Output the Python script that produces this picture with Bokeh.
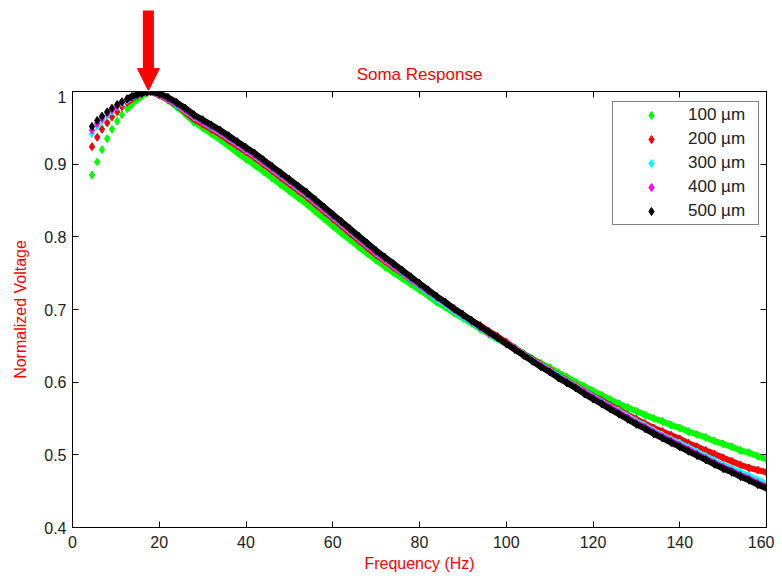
from bokeh.plotting import figure
from bokeh.layouts import column
from bokeh.models import (Arrow, NormalHead, LinearAxis, Legend, LegendItem, Label,
                          FixedTicker, Range1d, CustomJSTickFormatter,
                          CustomLabelingPolicy)
from bokeh.embed import file_html
from bokeh.resources import INLINE

# ---------------- data ----------------
freq = [4.5, 5.7, 6.8, 8.0, 9.1, 10.3, 11.4, 12.6, 13.7, 14.9, 16.0, 17.2,
        18, 20, 22, 24, 26, 28, 30, 32, 34, 36, 38, 40, 42, 44, 46, 48, 50,
        52, 54, 56, 58, 60, 62, 64, 66, 68, 70, 72, 74, 76, 78, 80, 82, 84,
        86, 88, 90, 92, 94, 96, 98, 100, 102, 104, 106, 108, 110, 112, 114,
        116, 118, 120, 122, 124, 126, 128, 130, 132, 134, 136, 138, 140, 142,
        144, 146, 148, 150, 152, 154, 156, 158, 160]

v100 = [0.885, 0.903, 0.920, 0.935, 0.948, 0.959, 0.968, 0.976, 0.983, 0.989, 0.994, 0.998,
        1.000, 0.995, 0.988, 0.979, 0.969, 0.958, 0.950, 0.942, 0.934, 0.925, 0.916, 0.907,
        0.899, 0.890, 0.881, 0.872, 0.863, 0.854, 0.845, 0.835, 0.825, 0.815, 0.805, 0.796,
        0.786, 0.777, 0.768, 0.759, 0.751, 0.743, 0.735, 0.727, 0.719, 0.710, 0.703, 0.695,
        0.688, 0.681, 0.673, 0.666, 0.659, 0.653, 0.646, 0.639, 0.632, 0.626, 0.620, 0.613,
        0.607, 0.600, 0.594, 0.588, 0.582, 0.576, 0.570, 0.565, 0.560, 0.555, 0.550, 0.546,
        0.541, 0.537, 0.532, 0.528, 0.524, 0.519, 0.515, 0.511, 0.506, 0.503, 0.498, 0.494]

v200 = [0.924, 0.937, 0.948, 0.957, 0.965, 0.972, 0.979, 0.985, 0.990, 0.994, 0.997, 0.999,
        1.000, 0.995, 0.989, 0.981, 0.972, 0.962, 0.955, 0.948, 0.941, 0.933, 0.925, 0.917,
        0.909, 0.900, 0.891, 0.882, 0.873, 0.864, 0.855, 0.845, 0.835, 0.825, 0.815, 0.805,
        0.795, 0.785, 0.775, 0.767, 0.758, 0.750, 0.741, 0.733, 0.725, 0.716, 0.709, 0.701,
        0.693, 0.685, 0.678, 0.670, 0.663, 0.655, 0.647, 0.639, 0.632, 0.624, 0.617, 0.609,
        0.602, 0.595, 0.588, 0.581, 0.575, 0.568, 0.562, 0.555, 0.549, 0.543, 0.537, 0.532,
        0.527, 0.522, 0.516, 0.511, 0.506, 0.501, 0.496, 0.491, 0.486, 0.482, 0.479, 0.476]

v300 = [0.942, 0.952, 0.960, 0.967, 0.973, 0.979, 0.984, 0.988, 0.992, 0.995, 0.998, 0.9995,
        1.000, 0.996, 0.990, 0.982, 0.974, 0.965, 0.958, 0.951, 0.944, 0.936, 0.928, 0.920,
        0.912, 0.903, 0.894, 0.885, 0.876, 0.867, 0.858, 0.848, 0.838, 0.828, 0.818, 0.808,
        0.798, 0.788, 0.778, 0.769, 0.760, 0.751, 0.742, 0.733, 0.724, 0.715, 0.707, 0.698,
        0.690, 0.683, 0.675, 0.668, 0.660, 0.653, 0.646, 0.638, 0.630, 0.623, 0.616, 0.608,
        0.601, 0.594, 0.587, 0.580, 0.573, 0.566, 0.560, 0.553, 0.546, 0.540, 0.533, 0.527,
        0.521, 0.516, 0.510, 0.504, 0.498, 0.492, 0.486, 0.481, 0.476, 0.471, 0.465, 0.460]

v400 = [0.947, 0.956, 0.963, 0.970, 0.975, 0.980, 0.985, 0.989, 0.993, 0.996, 0.998, 1.000,
        1.000, 0.996, 0.990, 0.983, 0.975, 0.966, 0.959, 0.952, 0.945, 0.937, 0.929, 0.921,
        0.913, 0.904, 0.895, 0.886, 0.877, 0.868, 0.859, 0.849, 0.839, 0.829, 0.819, 0.809,
        0.799, 0.789, 0.779, 0.770, 0.761, 0.752, 0.743, 0.734, 0.725, 0.717, 0.709, 0.700,
        0.692, 0.684, 0.676, 0.668, 0.661, 0.653, 0.645, 0.637, 0.629, 0.622, 0.615, 0.607,
        0.600, 0.593, 0.586, 0.579, 0.572, 0.565, 0.558, 0.551, 0.544, 0.538, 0.531, 0.525,
        0.519, 0.513, 0.507, 0.501, 0.495, 0.489, 0.483, 0.478, 0.472, 0.467, 0.461, 0.456]

v500 = [0.952, 0.960, 0.966, 0.972, 0.977, 0.982, 0.986, 0.990, 0.993, 0.996, 0.998, 0.9995,
        1.000, 0.997, 0.992, 0.985, 0.977, 0.968, 0.961, 0.954, 0.947, 0.939, 0.931, 0.923,
        0.915, 0.906, 0.897, 0.888, 0.879, 0.870, 0.861, 0.851, 0.841, 0.831, 0.821, 0.811,
        0.801, 0.791, 0.781, 0.772, 0.763, 0.754, 0.745, 0.736, 0.727, 0.718, 0.710, 0.701,
        0.693, 0.685, 0.677, 0.669, 0.661, 0.653, 0.645, 0.637, 0.629, 0.621, 0.614, 0.606,
        0.599, 0.592, 0.584, 0.577, 0.570, 0.563, 0.556, 0.549, 0.542, 0.536, 0.529, 0.523,
        0.517, 0.511, 0.505, 0.499, 0.493, 0.487, 0.481, 0.476, 0.470, 0.465, 0.459, 0.454]

series_labels = ["100 \u00b5m", "200 \u00b5m", "300 \u00b5m", "400 \u00b5m", "500 \u00b5m"]
series_values = [v100, v200, v300, v400, v500]
series_colors = ["#00FF00", "#FF0000", "#00FFFF", "#FF00FF", "#000000"]

x_ticks = [0, 20, 40, 60, 80, 100, 120, 140, 160]
y_ticks = [0.4, 0.5, 0.6, 0.7, 0.8, 0.9, 1.0]
peak_freq = 17.5
peak_value = 1.0
title_text = "Soma Response"

FONT = "Liberation Sans"
RED = "#FF0000"

# shared scale: 436 px of frame for 0.6 of voltage
Y_PER_PX = 0.6 / 436.0
TOP_H = 90

x_range = Range1d(0, 160)

# ---------------- top strip (title + arrow) ----------------
top = figure(width=774, height=TOP_H, output_backend="svg", toolbar_location=None,
             x_range=x_range,
             y_range=Range1d(peak_value, peak_value + TOP_H * Y_PER_PX),
             x_axis_location=None, y_axis_location=None, title=None,
             min_border_left=72, min_border_right=8, min_border_top=0,
             min_border_bottom=0)
top.xgrid.visible = False
top.ygrid.visible = False
top.outline_line_color = None
top.background_fill_color = "white"
top.border_fill_color = "white"

shaft = Arrow(end=None, x_start=peak_freq, y_start=peak_value + 80 * Y_PER_PX,
              x_end=peak_freq, y_end=peak_value + 22 * Y_PER_PX,
              line_color=RED, line_width=11)
head = Arrow(end=NormalHead(size=22, fill_color=RED, line_color=RED),
             x_start=peak_freq, y_start=peak_value + 22 * Y_PER_PX,
             x_end=peak_freq, y_end=peak_value, line_alpha=0)
top.add_layout(shaft)
top.add_layout(head)

title_lbl = Label(x=80, y=peak_value + 16 * Y_PER_PX, text=title_text,
                  text_align="center", text_baseline="middle",
                  text_color=RED, text_font=FONT, text_font_size="17px")
top.add_layout(title_lbl)

# ---------------- main plot ----------------
p = figure(width=774, height=484, output_backend="svg", toolbar_location=None,
           x_range=x_range, y_range=Range1d(0.4, 1.0), title=None,
           min_border_left=72, min_border_right=8, min_border_top=1,
           min_border_bottom=47)
p.xgrid.visible = False
p.ygrid.visible = False
p.outline_line_color = "black"
p.background_fill_color = "white"
p.border_fill_color = "white"


def style_axis(ax, show_labels=True):
    ax.axis_line_color = "black"
    ax.major_tick_line_color = "black"
    ax.major_tick_in = 6
    ax.major_tick_out = 0
    ax.minor_tick_line_color = None
    ax.major_label_text_font = FONT
    ax.major_label_text_color = "#222222"
    ax.axis_label_text_font = FONT
    ax.axis_label_text_color = RED
    ax.axis_label_text_font_style = "normal"
    if show_labels:
        ax.major_label_text_font_size = "16px"
    else:
        ax.major_label_text_font_size = "0px"
        ax.major_label_standoff = 0
        ax.major_label_policy = CustomLabelingPolicy(code="return new Set()")


xa = p.xaxis[0]
ya = p.yaxis[0]
xa.ticker = FixedTicker(ticks=x_ticks)
ya.ticker = FixedTicker(ticks=y_ticks)
ya.formatter = CustomJSTickFormatter(
    code="return Math.abs(tick - 1) < 1e-9 ? '1' : tick.toFixed(1);")
style_axis(xa)
style_axis(ya)
xa.axis_label = "Frequency (Hz)"
ya.axis_label = "Normalized Voltage"
xa.axis_label_text_font_size = "16px"
ya.axis_label_text_font_size = "16px"
xa.major_label_standoff = 8
xa.axis_label_standoff = 4
ya.major_label_standoff = 6
ya.axis_label_standoff = 12

top_ax = LinearAxis(ticker=FixedTicker(ticks=x_ticks))
right_ax = LinearAxis(ticker=FixedTicker(ticks=y_ticks))
style_axis(top_ax, False)
style_axis(right_ax, False)
p.add_layout(top_ax, "above")
p.add_layout(right_ax, "right")

# ---------------- curves ----------------
items = []
for lab, vals, col in zip(series_labels, series_values, series_colors):
    p.line(freq[7:], vals[7:], line_color=col, line_width=6)
    r = p.scatter(freq, vals, marker="diamond", size=8, fill_color=col,
                  line_color=col)
    items.append(LegendItem(label=lab, renderers=[r]))

legend = Legend(items=items, location=(540, 302), padding=3, spacing=4,
                glyph_width=70, glyph_height=20, label_standoff=2,
                label_width=67, margin=0,
                label_text_font=FONT, label_text_font_size="17px",
                label_text_color="#222222",
                border_line_color="black", border_line_width=1,
                background_fill_color="white", background_fill_alpha=1)
p.add_layout(legend, "center")

layout = column(top, p, spacing=0)
open("out.html", "w").write(file_html(layout, INLINE))
